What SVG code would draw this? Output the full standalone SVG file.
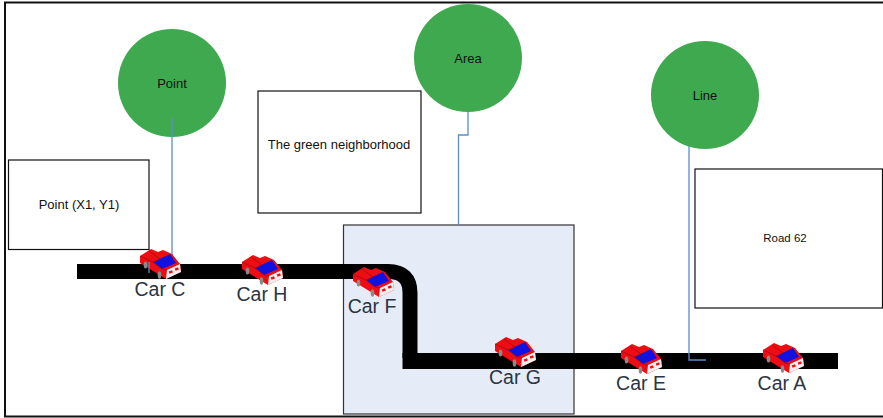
<svg xmlns="http://www.w3.org/2000/svg" width="883" height="418" viewBox="0 0 883 418">
<style>
.box{fill:#fff;stroke:#111;stroke-width:1.2}
.circ{fill:#3fa94f}
.lbl{font:13px "Liberation Sans",Arial,sans-serif;fill:#111;text-anchor:middle}
.small{font-size:11.500px}
.car{font:19.500px "Liberation Sans",Arial,sans-serif;fill:#2b3444;text-anchor:middle}
.wire{fill:none;stroke:#5f8ad0;stroke-width:1.3}
</style>
<defs>
<g id="carIcon">
<polygon points="0,7 11,0 18,3 23,1 32,5 40,15 41,23 26,30 0,14" fill="#ee0d12"/>
<polygon points="13,13 30,5 36,14 22,20" fill="#1212e0"/>
<polyline points="9,2 20,10 14,13" fill="none" stroke="#a00d10" stroke-width="0.8"/>
<polyline points="0,7 13,13 22,20 27,21" fill="none" stroke="#a00d10" stroke-width="0.8"/>
<polygon points="27,21 40,15 41,23 26,30" fill="#f4eeee"/>
<rect x="29" y="22" width="3.500" height="2.500" fill="#ee0d12" transform="rotate(-20 30 23)"/>
<rect x="35" y="19" width="3.500" height="2.500" fill="#ee0d12" transform="rotate(-20 36 20)"/>
<ellipse cx="5.500" cy="16" rx="1.800" ry="3.500" fill="#8a8a8a"/>
<ellipse cx="19.500" cy="26" rx="1.800" ry="3.700" fill="#8a8a8a"/>
</g>
</defs>
<path d="M883 2.500H5V416.500H883" fill="none" stroke="#111" stroke-width="2"/>
<g id="area-box"><rect x="343.500" y="225" width="230.500" height="189" fill="#e6ecf7" stroke="#333" stroke-width="1.200"/></g>
<g id="road">
<path d="M77 271.500H388Q410 271.500 410 293V358" fill="none" stroke="#000" stroke-width="15"/>
<rect x="402.500" y="353" width="435.500" height="16" fill="#000"/>
</g>
<g id="point"><circle class="circ" cx="172" cy="83" r="54"/><text class="lbl" x="172" y="88">Point</text></g>
<g id="area"><circle class="circ" cx="468" cy="58" r="54"/><text class="lbl" x="468" y="63">Area</text></g>
<g id="line"><circle class="circ" cx="705" cy="95" r="54"/><text class="lbl" x="705" y="100">Line</text></g>
<g id="connectors">
<path class="wire" d="M172 118V258"/>
<path class="wire" d="M468 112V135H458.500V225"/>
<path class="wire" d="M689 146V360H706"/>
</g>
<g id="point-label"><rect class="box" x="8.500" y="160" width="140.500" height="89.500"/><text class="lbl" x="79" y="209">Point (X1, Y1)</text></g>
<g id="neighborhood-label"><rect class="box" x="258" y="91" width="163" height="122"/><text class="lbl" x="339" y="149">The green neighborhood</text></g>
<g id="road-label"><rect class="box" x="695" y="169" width="187.500" height="139"/><text class="lbl small" x="785" y="242">Road 62</text></g>
<g id="car-c"><use href="#carIcon" x="140" y="249"/><path class="wire" d="M149 262V273"/><text class="car" x="160" y="296">Car C</text></g>
<g id="car-h"><use href="#carIcon" x="242" y="255"/><text class="car" x="262" y="301">Car H</text></g>
<g id="car-f"><use href="#carIcon" x="353" y="267"/><text class="car" x="372" y="313">Car F</text></g>
<g id="car-g"><use href="#carIcon" x="495" y="337"/><text class="car" x="515" y="384">Car G</text></g>
<g id="car-e"><use href="#carIcon" x="621" y="344"/><text class="car" x="641" y="390">Car E</text></g>
<g id="car-a"><use href="#carIcon" x="763" y="343"/><text class="car" x="782" y="390">Car A</text></g>
</svg>
